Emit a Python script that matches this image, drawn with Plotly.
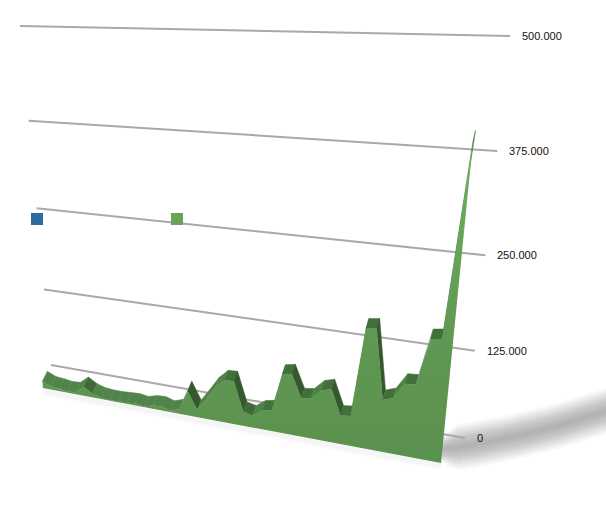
import numpy as np
import plotly.graph_objects as go

# series values in thousands, one per category
green_values = [11, 5, 4, 2, 3, 14, 6, 2, 1, 1, 2, 3, 1, 5, 6, 2, 7, 37, 11, 30, 50, 63, 64,
                21, 18, 28, 31, 85, 88, 56, 58, 72, 76, 41, 43, 165, 167, 73, 78,
                100, 101, 163, 165, 398]
grid_values = [0, 125, 250, 375, 500]
tick_labels = ["0", "125.000", "250.000", "375.000", "500.000"]
VMAX = 500
W, H = 606, 516
DEPTH_EASE = 1.05

# corners (t, v/VMAX) -> pixel for the front of the area and the back wall
FRONT = [(43, 388), (441, 463), (483, 41), (11, 33)]
WALL = [(51, 365), (465, 438), (510, 36), (20, 26)]


def homography(corners):
    src = [(0, 0), (1, 0), (1, 1), (0, 1)]
    a, b = [], []
    for (u, v), (x, y) in zip(src, corners):
        a.append([u, v, 1, 0, 0, 0, -u * x, -v * x])
        a.append([0, 0, 0, u, v, 1, -u * y, -v * y])
        b += [x, y]
    return np.append(np.linalg.solve(np.array(a, float), np.array(b, float)), 1).reshape(3, 3)


H_FRONT = homography(FRONT)
H_WALL = homography(WALL)


def project(h, t, v):
    x, y, w = h @ np.array([t, v / VMAX, 1.0])
    return x / w, y / w


def shade(dy, level):
    # dy is pixels the top edge drops over the segment
    if dy < -2 or (level < 20 and dy < 6):
        return "#50844a" if level < 20 else "#4f8246"
    if dy < 3:
        return "#41703a"
    if dy < 12:
        return "#3f6a38"
    return "#35582e"


fig = go.Figure()

# floor shadow, stacked see-through bands
shadow_x = np.linspace(436, 606, 24)
shadow_mid = np.polyval(np.polyfit([445, 530, 606], [449, 433, 411], 2), shadow_x)
taper = np.clip((shadow_x - 426) / 30, 0.4, 1)
for half in [23, 20.5, 18.5, 16.5, 14.5, 13, 11.5, 10, 8, 6, 4, 2]:
    fig.add_trace(go.Scatter(
        x=list(shadow_x) + list(shadow_x[::-1]),
        y=list(shadow_mid - half * taper) + list((shadow_mid + half * taper)[::-1]),
        mode="lines", line=dict(width=0), fill="toself",
        fillcolor="rgba(110,110,110,0.055)", hoverinfo="skip", showlegend=False))

# soft shadow under the base
for width, alpha in [(9, 0.015), (5, 0.025)]:
    x0, y0 = project(H_FRONT, 0, 0)
    x1, y1 = project(H_FRONT, 1, 0)
    fig.add_trace(go.Scatter(x=[x0, x1], y=[y0 + 3, y1 + 3], mode="lines",
                             line=dict(color=f"rgba(0,0,0,{alpha})", width=width),
                             hoverinfo="skip", showlegend=False))

# back wall grid lines and tick labels
for val, lab in zip(grid_values, tick_labels):
    x0, y0 = project(H_WALL, 0, val)
    x1, y1 = project(H_WALL, 1, val)
    fig.add_trace(go.Scatter(x=[x0, x1], y=[y0, y1], mode="lines",
                             line=dict(color="#aaa8a8", width=2),
                             hoverinfo="skip", showlegend=False))
    fig.add_annotation(x=x1, y=y1, text=lab, showarrow=False, xanchor="left", yanchor="middle",
                       xshift=10, yshift=0, font=dict(family="Liberation Sans", size=11, color="#111111"))

# legend swatches, the labels are empty in the original
for sx, color in [(37, "#2d6ca2"), (177, "#6aa35a")]:
    fig.add_trace(go.Scatter(x=[sx], y=[219], mode="markers",
                             marker=dict(symbol="square", size=12, color=color),
                             hoverinfo="skip", showlegend=False))

us = np.linspace(0, 1, len(green_values))
ts = us * DEPTH_EASE / ((1 - us) + us * DEPTH_EASE)
front = [project(H_FRONT, t, v) for t, v in zip(ts, green_values)]
base = [project(H_FRONT, t, 0) for t in ts]

# depth strip along the top edge
for i in range(len(front) - 1):
    (xa, ya), (xb, yb) = front[i], front[i + 1]
    dxa, dxb = 5 - 2.5 * ts[i], 5 - 2.5 * ts[i + 1]
    col = shade(yb - ya, max(green_values[i], green_values[i + 1]))
    fig.add_trace(go.Scatter(
        x=[xa, xb, xb + dxb, xa + dxa, xa],
        y=[ya, yb, yb - 10, ya - 10, ya],
        mode="lines", line=dict(color=col, width=0.5), fill="toself", fillcolor=col,
        hoverinfo="skip", showlegend=False))

# front face
fig.add_trace(go.Scatter(
    x=[p[0] for p in base] + [p[0] for p in front[::-1]],
    y=[p[1] for p in base] + [p[1] for p in front[::-1]],
    mode="lines", line=dict(width=0), fill="toself",
    fillgradient=dict(type="vertical", colorscale=[[0, "#5a914e"], [0.35, "#5e9752"], [1, "#70b05f"]]),
    hoverinfo="skip", showlegend=False))

fig.update_layout(
    width=W, height=H, margin=dict(l=0, r=0, t=0, b=0),
    paper_bgcolor="white", plot_bgcolor="white", showlegend=False,
    xaxis=dict(range=[0, W], visible=False, fixedrange=True),
    yaxis=dict(range=[H, 0], visible=False, fixedrange=True),
)
fig.write_html("out.html", config=dict(displayModeBar=False),
               post_script="document.body.style.margin='0';")
